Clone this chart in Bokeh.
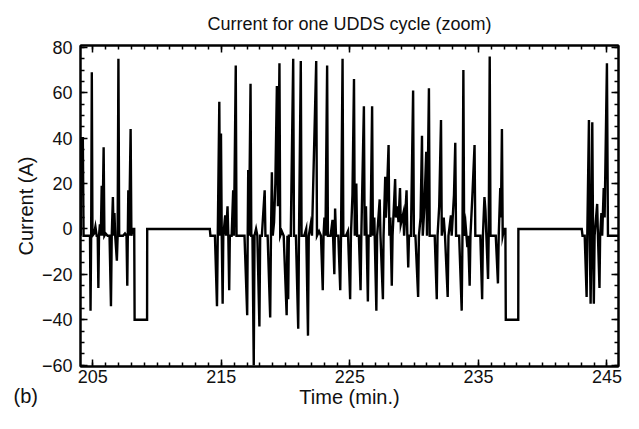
from bokeh.plotting import figure
from bokeh.models import (Range1d, FixedTicker, LinearAxis, Title,
                          CustomJSTickFormatter)
from bokeh.embed import file_html
from bokeh.resources import INLINE

# ---- data (time in minutes, current in A) ----
time_min = [
    204.06, 204.07, 204.22, 204.28, 204.78, 204.82, 204.87, 204.92, 204.97, 205.10,
    205.20, 205.30, 205.38, 205.43, 205.48, 205.55, 205.62, 205.69, 205.74, 205.84,
    205.90, 206.00, 206.15, 206.30, 206.41, 206.47, 206.56, 206.62, 206.68, 206.74,
    206.87, 206.93, 206.99, 207.05, 207.20, 207.35, 207.50, 207.62, 207.68, 207.72,
    207.76, 207.82, 207.94, 208.00, 208.10, 208.22, 208.25, 209.22, 209.23, 214.10,
    214.15, 214.50, 214.66, 214.72, 214.84, 214.90, 214.97, 215.03, 215.10, 215.15,
    215.30, 215.36, 215.48, 215.54, 215.61, 215.66, 215.80, 215.92, 215.98, 216.12,
    216.18, 216.50, 216.80, 217.01, 217.05, 217.09, 217.15, 217.27, 217.33, 217.42,
    217.52, 217.58, 217.70, 217.80, 217.96, 218.02, 218.15, 218.37, 218.43, 218.60,
    218.80, 218.86, 218.93, 219.00, 219.10, 219.20, 219.32, 219.40, 219.52, 219.58,
    219.70, 219.85, 220.08, 220.14, 220.20, 220.25, 220.40, 220.59, 220.65, 220.80,
    220.98, 221.04, 221.18, 221.24, 221.45, 221.60, 221.74, 221.80, 221.95, 222.05,
    222.38, 222.44, 222.60, 222.75, 222.89, 222.95, 223.02, 223.10, 223.23, 223.29,
    223.50, 223.65, 223.79, 223.85, 223.92, 224.10, 224.25, 224.31, 224.43, 224.49,
    224.70, 224.85, 225.02, 225.08, 225.20, 225.32, 225.38, 225.50, 225.56, 225.70,
    225.83, 225.89, 226.09, 226.15, 226.25, 226.30, 226.40, 226.46, 226.60, 226.73,
    226.79, 226.90, 227.06, 227.12, 227.32, 227.38, 227.57, 227.62, 227.75, 227.80,
    227.88, 228.01, 228.07, 228.15, 228.26, 228.32, 228.52, 228.58, 228.70, 228.78,
    228.90, 228.96, 229.16, 229.22, 229.41, 229.47, 229.54, 229.60, 229.75, 229.92,
    229.98, 230.10, 230.31, 230.37, 230.50, 230.61, 230.67, 230.80, 230.94, 231.00,
    231.15, 231.21, 231.40, 231.60, 231.76, 231.82, 231.95, 232.09, 232.15, 232.30,
    232.40, 232.61, 232.67, 232.86, 232.92, 233.10, 233.20, 233.26, 233.50, 233.70,
    233.76, 233.83, 233.89, 234.00, 234.14, 234.20, 234.32, 234.38, 234.55, 234.70,
    234.76, 235.00, 235.15, 235.29, 235.35, 235.47, 235.55, 235.62, 235.75, 235.80,
    235.88, 235.94, 236.15, 236.35, 236.52, 236.58, 236.70, 236.75, 236.83, 236.89,
    237.00, 237.10, 237.13, 238.10, 238.11, 243.04, 243.10, 243.27, 243.42, 243.47,
    243.60, 243.66, 243.73, 243.79, 243.86, 243.92, 243.98, 244.04, 244.24, 244.30,
    244.42, 244.47, 244.57, 244.63, 244.75, 244.82, 245.00, 245.08, 245.16, 245.90,
]
current_a = [
    -3, 40, 40, -3, -3, -36, -3, 69, -3, -2,
    1, -3, -3, -26, -3, 2, -3, 19, -3, 36,
    -3, -2, -3, -3, -34, -3, 14, -3, 7, -3,
    -14, -3, 75, -3, -3, -3, -2, -3, -25, -3,
    17, -3, 44, -3, 0, 0, -40, -40, 0, 0,
    -3, -3, -34, -3, 56, -3, 42, -3, -33, -3,
    6, -3, 10, -3, -27, -3, -3, 17, -3, 72,
    -3, -3, -3, -38, -3, 26, -3, 64, -3, -3,
    -60, -3, 0, -3, -43, -3, -3, 17, -3, -3,
    -39, -3, 25, -3, 3, 20, 63, 10, 73, -3,
    -1, -3, -38, -3, -31, -3, -3, 75, -3, -3,
    -44, -3, 74, -3, -3, 0, -47, -3, 2, -3,
    74, -3, -1, -3, -27, -3, 5, -3, 72, -3,
    -3, 4, -20, 9, -3, -3, -27, -3, 75, -3,
    -3, -1, -31, -3, 15, 66, -3, 20, -3, -3,
    -27, -3, 54, -3, 10, -3, -32, -3, -3, 54,
    -3, 5, -36, -3, 13, -3, -31, -3, 23, 5,
    15, 37, -3, 5, -25, -3, 22, 5, 10, 3,
    18, 2, 7, -3, 17, -3, -17, -3, -3, 61,
    -3, -3, -30, -3, 5, 41, -3, 10, 34, -3,
    62, -3, -3, -3, -31, -3, 10, 48, -3, 5,
    -3, -30, -3, 6, -3, 15, 38, -3, -3, -36,
    -3, 70, -3, 2, -8, -3, -25, -3, 17, 37,
    -3, -3, -3, -31, -3, 14, 8, -3, -22, -3,
    76, -3, -3, -3, -24, -3, 18, 5, 44, -3,
    0, 0, -40, -40, 0, 0, -3, -3, -30, -3,
    48, -3, -33, -3, 47, -3, -33, -3, 11, -3,
    -26, -3, 7, -3, 18, 5, 73, -3, -3, -3,
]

x_major = [205, 215, 225, 235, 245]
x_minor = list(range(204, 247))
y_major = [-60, -40, -20, 0, 20, 40, 60, 80]
y_minor = list(range(-60, 81, 5))
y_labels = {-60: "\u221260", -40: "\u221240", -20: "\u221220", 0: "0",
            20: "20", 40: "40", 60: "60", 80: "80"}

FONT = "Liberation Sans"

p = figure(width=623, height=413, output_backend="svg",
           toolbar_location=None,
           x_range=Range1d(204.04, 245.9), y_range=Range1d(-60.6, 80.8),
           min_border_left=80, min_border_right=5, min_border_top=45,
           min_border_bottom=47)

p.line(time_min, current_a, line_color="black", line_width=2.4,
       line_join="miter")

p.title.text = "Current for one UDDS cycle (zoom)"
p.title.align = "center"
p.title.vertical_align = "top"
p.title.text_font = FONT
p.title.text_font_size = "18px"
p.title.text_font_style = "normal"
p.title.text_color = "#111111"
p.title.standoff = 19

p.xgrid.visible = False
p.ygrid.visible = False
p.outline_line_color = "black"
p.outline_line_width = 2
p.outline_line_alpha = 1.0
p.background_fill_color = "white"
p.border_fill_color = "white"

xt = FixedTicker(ticks=x_major, minor_ticks=x_minor)
yt = FixedTicker(ticks=y_major, minor_ticks=y_minor)

def style(ax, labels=True):
    ax.axis_line_color = "black"
    ax.axis_line_width = 2
    ax.major_tick_line_color = "black"
    ax.minor_tick_line_color = "black"
    ax.major_tick_line_width = 1.5
    ax.minor_tick_line_width = 1.5
    ax.major_tick_in = 7
    ax.major_tick_out = 0
    ax.minor_tick_in = 4
    ax.minor_tick_out = 0
    ax.major_label_text_font = FONT
    ax.major_label_text_font_size = "18px"
    ax.major_label_text_color = "#111111"
    ax.axis_label_text_font = FONT
    ax.axis_label_text_font_size = "20px"
    ax.axis_label_text_font_style = "normal"
    ax.axis_label_text_color = "#111111"
    if not labels:
        ax.formatter = CustomJSTickFormatter(code="return ''")
        ax.major_label_standoff = 0

xa = p.xaxis[0]
xa.ticker = xt
xa.axis_label = "Time (min.)"
style(xa)
xa.major_label_standoff = 3
xa.axis_label_standoff = 0

ya = p.yaxis[0]
ya.ticker = yt
ya.major_label_overrides = y_labels
ya.axis_label = "Current (A)"
style(ya)
ya.major_label_standoff = 8
ya.axis_label_standoff = 2

top = LinearAxis(ticker=FixedTicker(ticks=x_major, minor_ticks=x_minor))
style(top, labels=False)
p.add_layout(top, "above")
right = LinearAxis(ticker=FixedTicker(ticks=y_major, minor_ticks=y_minor))
style(right, labels=False)
p.add_layout(right, "right")

panel_tag = Title(text="(b)", align="left", vertical_align="top",
                  offset=-67, standoff=-52, text_font=FONT,
                  text_font_size="20px", text_font_style="normal",
                  text_color="#111111")
p.add_layout(panel_tag, "below")

open("out.html", "w").write(file_html(p, INLINE))
